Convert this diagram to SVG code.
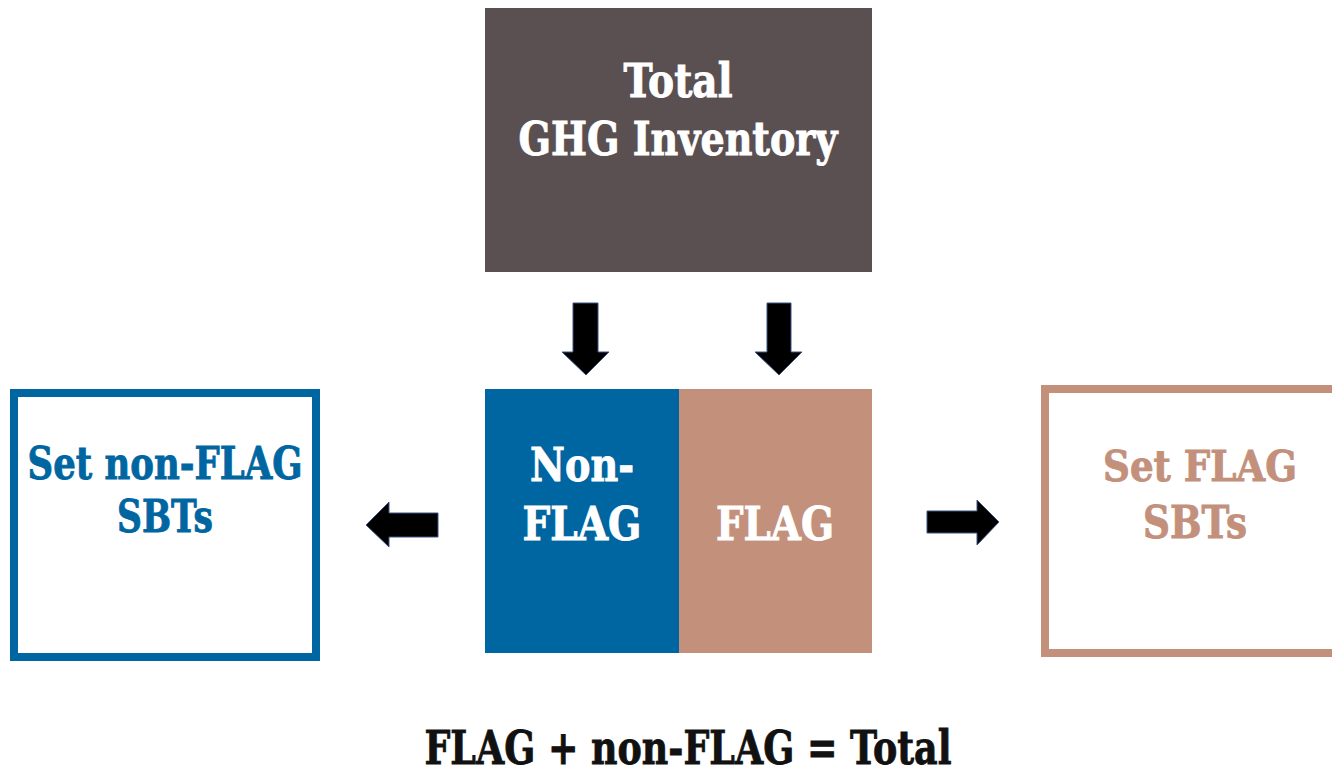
<svg xmlns="http://www.w3.org/2000/svg" width="1332" height="773" viewBox="0 0 1332 773">
  <style>
    .lbl { font-family: "DejaVu Serif", "Liberation Serif", serif; font-weight: bold; text-anchor: middle; stroke-width: 0.9; }
    .white { fill: #ffffff; stroke: #ffffff; }
    .blue { fill: #0066a1; stroke: #0066a1; }
    .tan { fill: #c3907c; stroke: #c3907c; }
    .dark { fill: #111111; stroke: #111111; }
    .arrow { fill: #000000; stroke: #3b5583; stroke-width: 1; stroke-linejoin: miter; }
  </style>
  <rect x="0" y="0" width="1332" height="773" fill="#ffffff"/>

  <g id="total-inventory">
    <rect x="485" y="8" width="387" height="264" fill="#5a5052"/>
    <text class="lbl white" x="678" y="97" font-size="46" textLength="109" lengthAdjust="spacingAndGlyphs">Total</text>
    <text class="lbl white" x="678" y="155" font-size="46" textLength="319" lengthAdjust="spacingAndGlyphs">GHG Inventory</text>
  </g>

  <g id="non-flag">
    <rect x="485" y="389" width="194" height="264" fill="#0066a1"/>
    <text class="lbl white" x="582" y="481" font-size="46" textLength="104" lengthAdjust="spacingAndGlyphs">Non-</text>
    <text class="lbl white" x="582" y="540" font-size="46" textLength="119" lengthAdjust="spacingAndGlyphs">FLAG</text>
  </g>

  <g id="flag">
    <rect x="679" y="389" width="193" height="264" fill="#c3907c"/>
    <text class="lbl white" x="775" y="540" font-size="46" textLength="118" lengthAdjust="spacingAndGlyphs">FLAG</text>
  </g>

  <g id="set-non-flag-sbts">
    <rect x="14" y="393" width="302" height="264" fill="#ffffff" stroke="#0066a1" stroke-width="8"/>
    <text class="lbl blue" x="165" y="479" font-size="44" textLength="275" lengthAdjust="spacingAndGlyphs">Set non-FLAG</text>
    <text class="lbl blue" x="165" y="532" font-size="44" textLength="96" lengthAdjust="spacingAndGlyphs">SBTs</text>
  </g>

  <g id="set-flag-sbts">
    <!-- frame runs off the right edge, so only three sides are drawn -->
    <path d="M1332,389 H1045 V653 H1332" fill="none" stroke="#c3907c" stroke-width="8" stroke-linejoin="miter"/>
    <text class="lbl tan" x="1200" y="481" font-size="42" textLength="194" lengthAdjust="spacingAndGlyphs">Set FLAG</text>
    <text class="lbl tan" x="1195" y="538" font-size="45" textLength="104" lengthAdjust="spacingAndGlyphs">SBTs</text>
  </g>

  <g id="connectors">
    <!-- down arrows from the inventory into the two parts -->
    <polygon class="arrow" points="573,303 598,303 598,352 609,352 586,375 562,352 573,352"/>
    <polygon class="arrow" points="767,303 791,303 791,352 802,352 779,375 755,352 767,352"/>
    <!-- left arrow to non-FLAG targets -->
    <polygon class="arrow" points="438,513 438,537 389,537 389,547 366,525 389,502 389,513"/>
    <!-- right arrow to FLAG targets -->
    <polygon class="arrow" points="927,511 977,511 977,500 999,522 977,545 977,533 927,533"/>
  </g>

  <g id="equation">
    <text class="lbl dark" x="688" y="764" font-size="47" textLength="527" lengthAdjust="spacingAndGlyphs">FLAG + non-FLAG = Total</text>
  </g>
</svg>
